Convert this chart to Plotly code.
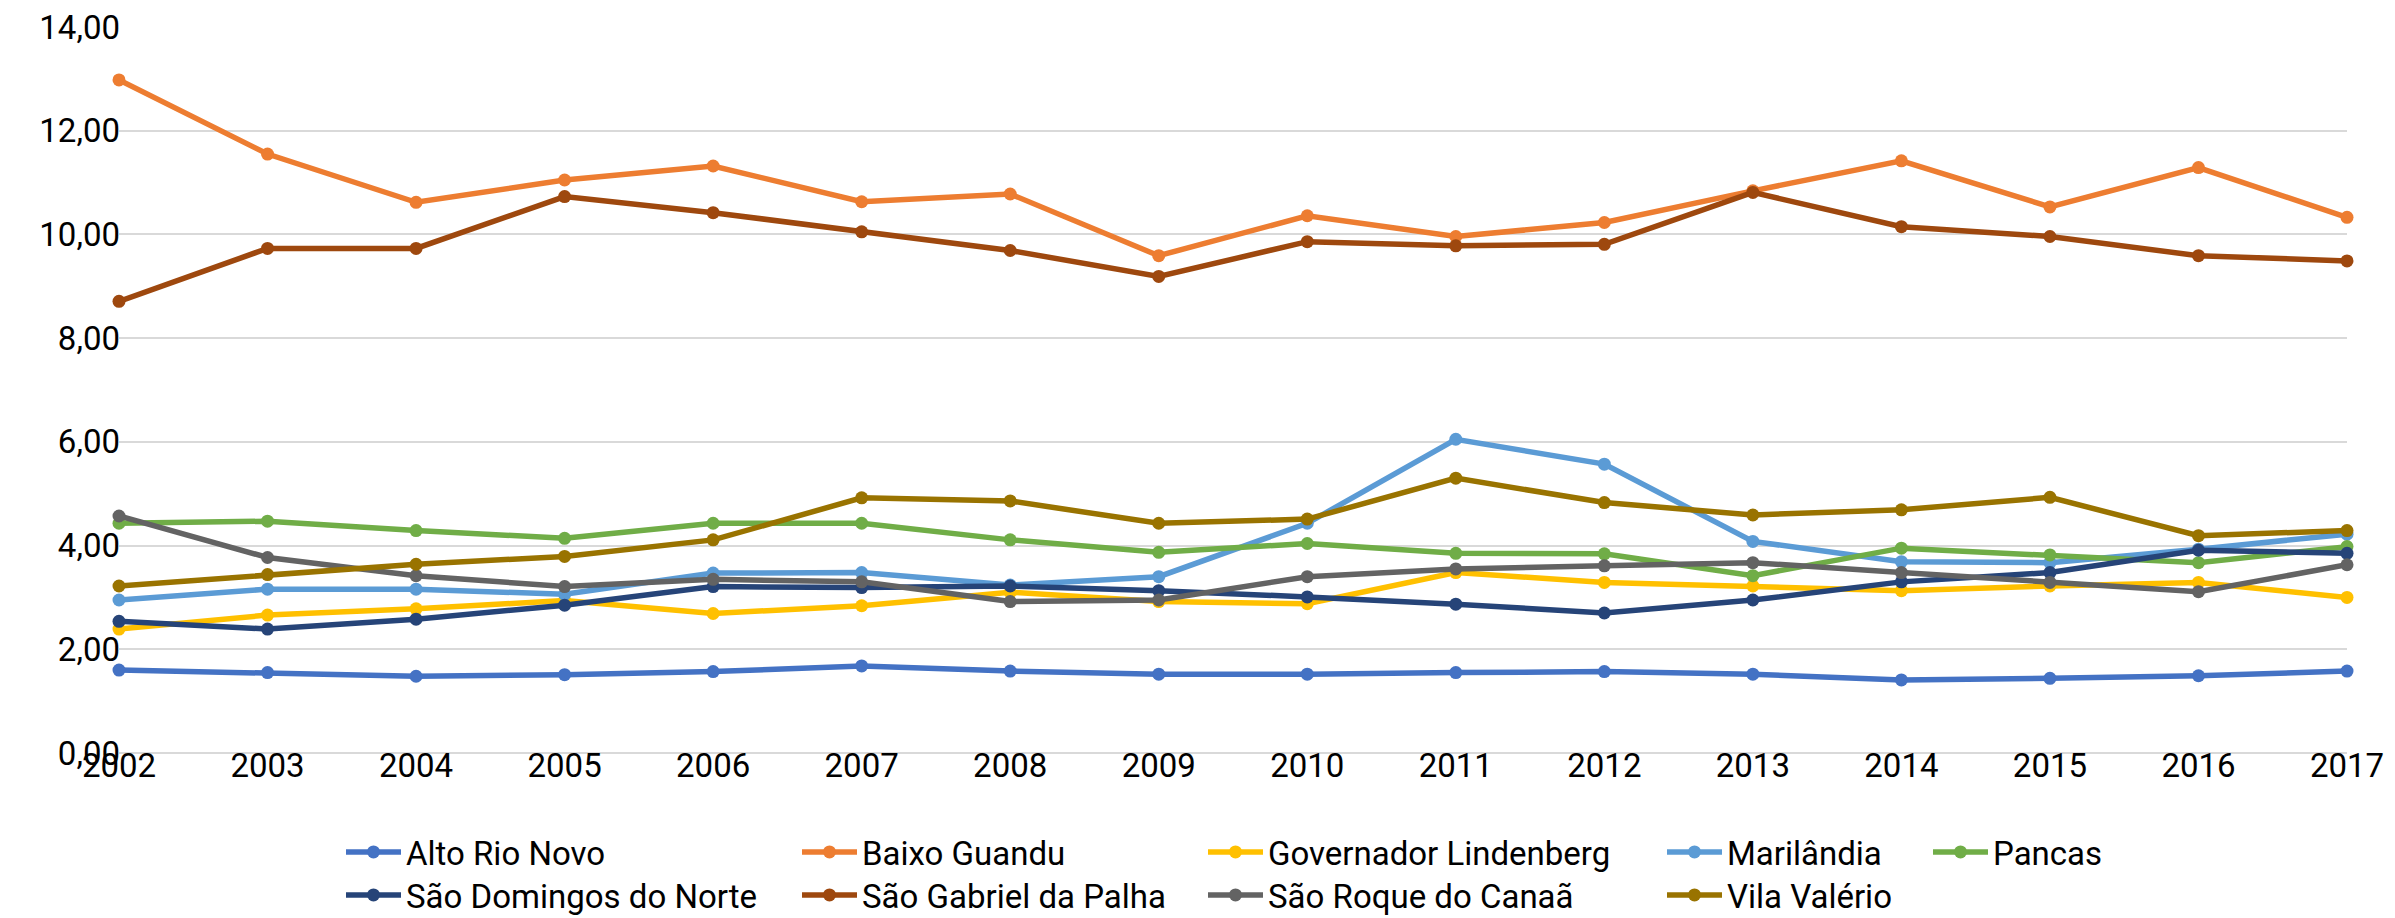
import plotly.graph_objects as go

years = list(range(2002, 2018))

alto_rio_novo = [1.60, 1.55, 1.48, 1.51, 1.57, 1.68, 1.58, 1.52, 1.52, 1.55, 1.57, 1.52, 1.41, 1.44, 1.49, 1.58]
baixo_guandu = [12.98, 11.55, 10.62, 11.05, 11.32, 10.63, 10.78, 9.59, 10.36, 9.96, 10.23, 10.84, 11.42, 10.53, 11.29, 10.33]
governador_lindenberg = [2.39, 2.66, 2.78, 2.94, 2.69, 2.84, 3.10, 2.92, 2.88, 3.48, 3.29, 3.22, 3.13, 3.22, 3.29, 3.00]
marilandia = [2.95, 3.16, 3.16, 3.06, 3.47, 3.48, 3.24, 3.40, 4.43, 6.05, 5.57, 4.08, 3.69, 3.67, 3.93, 4.22]
pancas = [4.43, 4.47, 4.29, 4.14, 4.43, 4.43, 4.11, 3.87, 4.04, 3.85, 3.84, 3.42, 3.95, 3.82, 3.67, 3.98]
sao_domingos = [2.54, 2.39, 2.58, 2.85, 3.21, 3.19, 3.22, 3.13, 3.01, 2.87, 2.70, 2.95, 3.30, 3.48, 3.91, 3.85]
sao_gabriel = [8.71, 9.73, 9.73, 10.73, 10.42, 10.05, 9.69, 9.19, 9.86, 9.78, 9.81, 10.81, 10.15, 9.96, 9.59, 9.49]
sao_roque = [4.57, 3.77, 3.42, 3.21, 3.35, 3.30, 2.92, 2.95, 3.40, 3.55, 3.61, 3.67, 3.48, 3.29, 3.11, 3.63]
vila_valerio = [3.22, 3.44, 3.64, 3.79, 4.11, 4.92, 4.86, 4.43, 4.51, 5.30, 4.83, 4.59, 4.69, 4.93, 4.19, 4.29]

series = [
    ("Alto Rio Novo", alto_rio_novo, "#4472C4"),
    ("Baixo Guandu", baixo_guandu, "#ED7D31"),
    ("Governador Lindenberg", governador_lindenberg, "#FFC000"),
    ("Marilândia", marilandia, "#5B9BD5"),
    ("Pancas", pancas, "#70AD47"),
    ("São Domingos do Norte", sao_domingos, "#264478"),
    ("São Gabriel da Palha", sao_gabriel, "#9E480E"),
    ("São Roque do Canaã", sao_roque, "#636363"),
    ("Vila Valério", vila_valerio, "#997300"),
]

# page body has an 8px margin, so the figure is a bit smaller than the window
OFF = 8
W, H = 2395 - OFF, 918 - OFF
ML, MR, MT, MB = 119 - OFF, 48, 27 - OFF, 165
FONT = "Liberation Sans Narrow, Arial Narrow, Roboto, sans-serif"
FS = 33

pw = W - ML - MR
ph = H - MT - MB

# Excel-like legend grid: 5 columns, 2 rows (screen pixels)
col_px = [341, 797, 1203, 1662, 1928]
row_px = [852, 895]

fig = go.Figure()
layout_legends = {}
for i, (name, vals, color) in enumerate(series):
    key = "legend" if i == 0 else f"legend{i + 1}"
    fig.add_trace(go.Scatter(
        x=years, y=vals, name=name, mode="lines+markers",
        line=dict(color=color, width=5.5),
        marker=dict(color=color, size=13),
        cliponaxis=False, legend=key,
    ))
    r, c = divmod(i, 5)
    layout_legends[key] = dict(
        orientation="h", xanchor="left", yanchor="middle",
        x=(col_px[c] - OFF - ML) / pw, y=(H - MB - (row_px[r] - OFF)) / ph,
        font=dict(family=FONT, size=FS, color="#000000"),
        itemwidth=55, bgcolor="rgba(0,0,0,0)",
    )

fig.update_layout(
    width=W, height=H,
    margin=dict(l=ML, r=MR, t=MT, b=MB, autoexpand=False),
    plot_bgcolor="white", paper_bgcolor="white",
    separators=",.",
    font=dict(family=FONT, size=FS, color="#000000"),
    showlegend=True,
    **layout_legends,
)
fig.update_xaxes(
    range=[2002, 2017], tickvals=years, showgrid=False, zeroline=False,
    showline=False, ticks="", ticklabelstandoff=-10, ticklabeloverflow="allow",
    tickfont=dict(family=FONT, size=FS, color="#000000"),
)
fig.update_yaxes(
    range=[0, 14], dtick=2, tickformat=".2f", showgrid=True,
    gridcolor="#D9D9D9", gridwidth=2, zeroline=True, zerolinecolor="#D9D9D9",
    zerolinewidth=2, showline=False, ticks="", ticklabelstandoff=-2,
    ticklabeloverflow="allow",
    tickfont=dict(family=FONT, size=FS, color="#000000"),
)

fig.write_html("out.html")
